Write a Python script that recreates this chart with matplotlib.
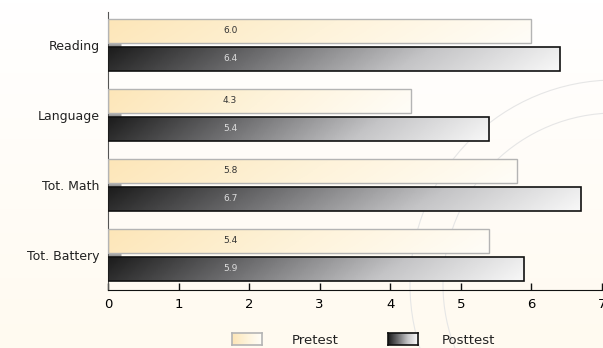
import numpy as np
import matplotlib.pyplot as plt
from matplotlib.colors import LinearSegmentedColormap
from matplotlib.patches import Rectangle, Circle

# test score means by subtest
categories = ['Reading', 'Language', 'Tot. Math', 'Tot. Battery']
pretest = [6.0, 4.3, 5.8, 5.4]
posttest = [6.4, 5.4, 6.7, 5.9]

pre_cmap = LinearSegmentedColormap.from_list('pre', ['#fde6b8', '#fef3da', '#fffdf8'])
post_cmap = LinearSegmentedColormap.from_list('post', ['#1c1c1c', '#6e6e70', '#c4c4c6', '#f8f8f8'])

W, H = 603, 348
fig = plt.figure(figsize=(W / 100, H / 100), dpi=100)

# soft cream backdrop, whiter toward the top
bg = fig.add_axes([0, 0, 1, 1], zorder=-10)
grad = np.linspace(0, 1, 100)[:, None] * np.ones((1, 10))
bg.imshow(grad, aspect='auto', extent=[0, W, H, 0],
          cmap=LinearSegmentedColormap.from_list('bg', ['#ffffff', '#fffaf0']),
          origin='upper')
# faint seal outline in the background (pixel units)
for r in (205, 172):
    bg.add_patch(Circle((615, 285), r, fill=False, ec='#e6e6e6', lw=0.8))
bg.set_xlim(0, W)
bg.set_ylim(H, 0)
bg.axis('off')

ax = fig.add_axes([108 / W, 1 - 290 / H, 494 / W, 278 / H])
ax.patch.set_alpha(0)

h = 0.34
off = 0.2
y = np.arange(len(categories))


def grad_bar(ax, val, yc, cmap, ec, lw):
    y0, y1 = yc - h / 2, yc + h / 2
    xs = np.linspace(0, 1, 200)[None, :]
    ys = np.linspace(0, 1, 20)[:, None]
    img = xs * 0.92 + ys * 0.08
    ax.imshow(img, aspect='auto', cmap=cmap, extent=[0, val, y1, y0],
              origin='upper', vmin=0, vmax=1, zorder=2)
    ax.add_patch(Rectangle((0, y0), val, h, fill=False, ec=ec, lw=lw, zorder=3))


for i in range(len(categories)):
    grad_bar(ax, pretest[i], y[i] - off, pre_cmap, '#b4b4b4', 1.0)
    grad_bar(ax, posttest[i], y[i] + off, post_cmap, '#111111', 1.2)
    ax.text(1.73, y[i] - off, f'{pretest[i]:.1f}', ha='center', va='center',
            fontsize=6.5, color='#333333', zorder=4)
    ax.text(1.73, y[i] + off, f'{posttest[i]:.1f}', ha='center', va='center',
            fontsize=6.5, color='#dddddd', zorder=4)

ax.set_xlim(0, 7)
ax.set_ylim(3.5, -0.47)
ax.set_yticks(y)
ax.set_yticklabels(categories, fontsize=9, color='#222222')
ax.set_xticks(range(8))
ax.tick_params(axis='y', direction='in', length=9, width=2, color='#9a9a9a', pad=6)
ax.tick_params(axis='x', direction='in', length=5, width=1, color='#111111',
               labelsize=9.5, pad=6)
ax.spines['top'].set_visible(False)
ax.spines['right'].set_visible(False)
ax.spines['left'].set_color('#555555')
ax.spines['bottom'].set_color('#111111')

# legend drawn as small gradient swatches
for x0, cmap, ec, label, tx in [(232, pre_cmap, '#b4b4b4', 'Pretest', 292),
                                 (388, post_cmap, '#111111', 'Posttest', 442)]:
    la = fig.add_axes([x0 / W, 1 - 345 / H, 30 / W, 12 / H])
    la.imshow(np.linspace(0, 1, 50)[None, :], aspect='auto', cmap=cmap,
              extent=[0, 1, 0, 1])
    la.set_xticks([])
    la.set_yticks([])
    for s in la.spines.values():
        s.set_color(ec)
        s.set_linewidth(1.2)
    fig.text(tx / W, 1 - 340 / H, label, fontsize=9.5, color='#222222',
             va='center', ha='left')

fig.savefig('out.png', dpi=100)
